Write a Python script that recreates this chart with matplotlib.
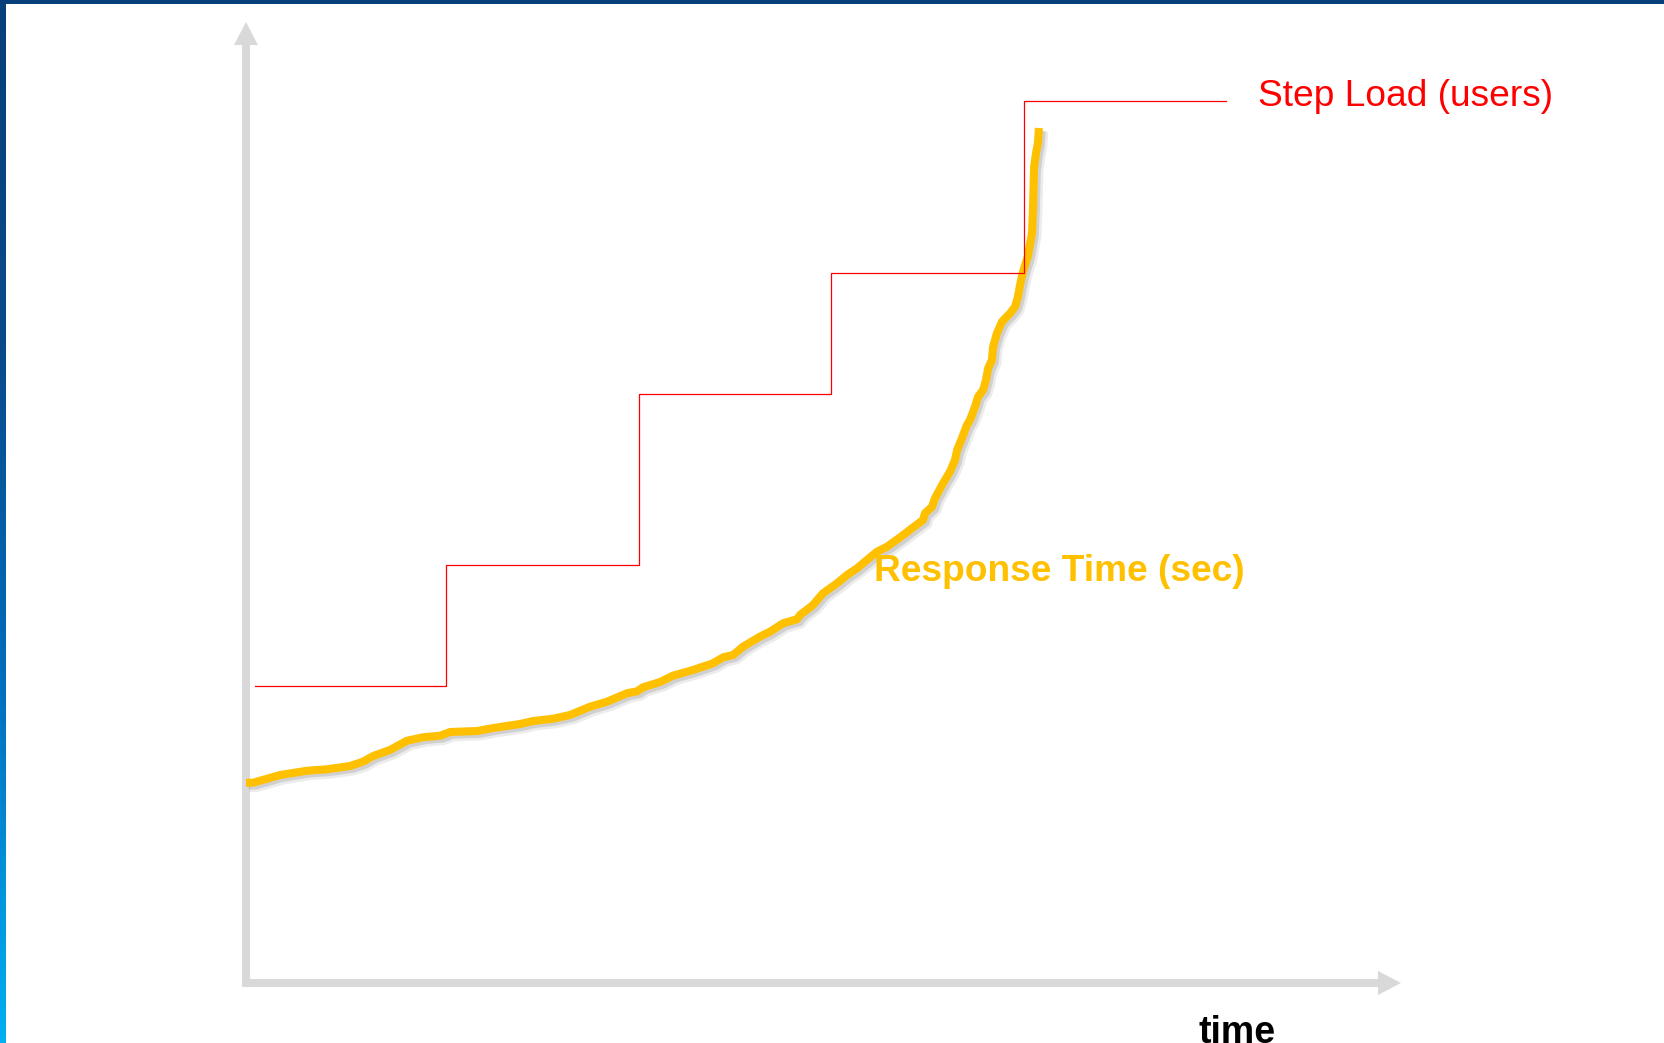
import matplotlib
matplotlib.use("Agg")
import matplotlib.pyplot as plt
import matplotlib.patheffects as pe
import numpy as np

plt.rcParams['font.family'] = ['Liberation Sans', 'DejaVu Sans']

# Step load (users): step start times and user levels
step_times = [0.45, 10.4, 20.4, 30.4, 40.4, 50.9]
step_users = [30.9, 43.5, 61.3, 73.9, 91.8, 91.8]

# Response time (sec)
resp_time = [0.0, 0.36, 1.77, 3.17, 4.21, 5.40, 6.08, 6.60, 7.48, 8.36,
             9.19, 10.08, 10.60, 12.0, 12.83, 14.23, 14.91, 15.95, 16.83, 17.87,
             18.75, 19.79, 20.31, 20.62, 21.51, 22.18, 23.22, 24.26, 24.78, 25.30,
             25.82, 26.70, 27.22, 27.90, 28.62, 28.78, 29.45, 29.97, 30.70, 31.22,
             31.74, 32.26, 32.78, 33.30, 33.97, 34.65, 35.17, 35.27, 35.64, 35.79,
             36.21, 36.57, 36.83, 36.94, 37.19, 37.45, 37.61, 37.87, 38.03, 38.29,
             38.44, 38.55, 38.75, 38.81, 39.01, 39.27, 39.69, 39.95, 40.10, 40.21,
             40.36, 40.62, 40.83, 40.88, 40.94, 41.04, 41.14, 41.19]
resp_sec = [20.84, 20.84, 21.64, 22.09, 22.24, 22.58, 23.03, 23.62, 24.25, 25.21,
            25.57, 25.73, 26.12, 26.22, 26.53, 26.95, 27.26, 27.50, 27.89, 28.75,
            29.27, 30.15, 30.35, 30.77, 31.32, 31.98, 32.57, 33.27, 33.89, 34.13,
            35.0, 36.04, 36.56, 37.43, 37.85, 38.29, 39.33, 40.55, 41.59, 42.46,
            43.15, 44.02, 44.88, 45.40, 46.36, 47.40, 48.18, 48.88, 49.56, 50.44,
            52.0, 53.21, 54.42, 55.46, 56.68, 58.06, 58.58, 59.97, 61.01, 61.71,
            62.75, 63.96, 64.83, 66.21, 67.61, 68.81, 69.69, 70.37, 71.41, 72.63,
            73.99, 75.65, 78.04, 80.44, 84.91, 86.37, 87.41, 88.97]

W, H = 1664, 1043
fig = plt.figure(figsize=(W / 100, H / 100), dpi=100)

# Slide frame: dark top bar and blue gradient on the left
bg = fig.add_axes([0, 0, 1, 1])
bg.set_xlim(0, 1)
bg.set_ylim(0, 1)
bg.axis('off')
grad = np.linspace(0, 1, 256).reshape(-1, 1)
cmap = matplotlib.colors.LinearSegmentedColormap.from_list(
    'edge', ['#00b0f0', '#0070c0', '#0a4a8a', '#073f7a'])
bg.imshow(grad, cmap=cmap, origin='lower', aspect='auto',
          extent=(0, 6 / W, 0, 1))
bg.add_patch(plt.Rectangle((0, 1 - 4 / H), 1, 4 / H, color='#073f7a', lw=0))

# Main axes: origin at the arrow corner
ax = fig.add_axes([246 / W, 60 / H, 1155 / W, 961 / H])
ax.set_xlim(0, 60)
ax.set_ylim(0, 100)
ax.axis('off')

axis_grey = '#d9d9d9'
arrow_kw = dict(arrowstyle='simple,head_length=16.6,head_width=17.3,tail_width=5.8',
                fc=axis_grey, ec='none', lw=0, shrinkA=0, shrinkB=0,
                mutation_scale=1)
ax.annotate('', xy=(1, 0), xytext=(0, 0), xycoords='axes fraction',
            arrowprops=arrow_kw, zorder=1, annotation_clip=False)
ax.annotate('', xy=(0, 1), xytext=(0, -0.004), xycoords='axes fraction',
            arrowprops=arrow_kw, zorder=1, annotation_clip=False)

ax.plot(resp_time, resp_sec, color='#ffc000', lw=5.8,
        solid_capstyle='butt', solid_joinstyle='round', zorder=3,
        clip_on=False,
        path_effects=[pe.SimpleLineShadow(offset=(2.5, -2.5), shadow_color='#808080',
                                          alpha=0.15, linewidth=8.5),
                      pe.SimpleLineShadow(offset=(2, -2), shadow_color='#808080',
                                          alpha=0.25),
                      pe.Normal()])

ax.step(step_times, step_users, where='post', color='#ff0000', lw=0.9,
        zorder=4, clip_on=False)

ax.text(52.55, 92.2, 'Step Load (users)', color='#ff0000', fontsize=26.7,
        ha='left', va='center')
ax.text(32.64, 42.8, 'Response Time (sec)', color='#ffc000', fontsize=26.7,
        fontweight='bold', ha='left', va='center', zorder=5)
ax.text(51.5, -6.24, 'time', color='black', fontsize=27,
        fontweight='bold', ha='center', va='baseline')

fig.savefig('out.png', dpi=100)
